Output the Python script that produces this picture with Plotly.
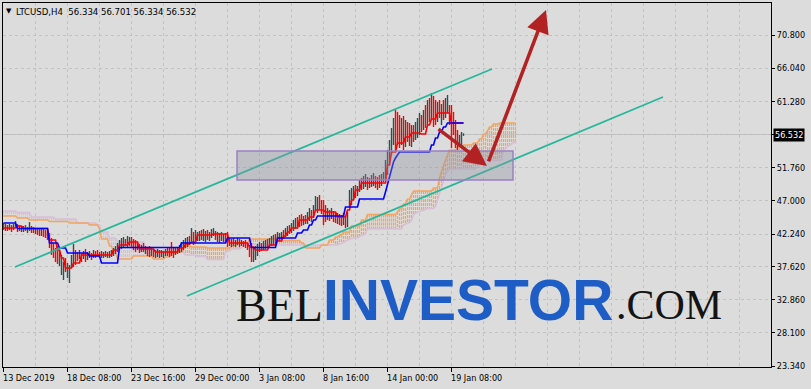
import plotly.graph_objects as go

# ---------------- data ----------------
symbol = "LTCUSD,H4"
header_ohlc = [56.334, 56.701, 56.334, 56.532]

bar_high = [
    43.84, 43.70, 43.55, 43.70, 43.55, 43.70, 44.13, 43.70, 43.55, 43.41,
    43.41, 43.55, 43.27, 43.98, 43.41, 43.27, 43.12, 43.12, 42.98, 43.12,
    42.98, 42.84, 42.70, 42.41, 41.69, 40.98, 40.26, 40.55, 39.97, 39.26,
    38.25, 38.83, 38.11, 37.82, 39.26, 40.83, 39.97, 39.69, 39.97, 39.54,
    39.83, 40.12, 39.69, 39.83, 39.54, 39.97, 39.83, 39.97, 39.69, 39.83,
    39.69, 39.83, 39.69, 39.83, 39.97, 40.26, 40.55, 40.98, 41.41, 41.69,
    41.84, 41.55, 41.98, 41.84, 41.84, 41.55, 41.41, 40.98, 40.83, 40.69,
    40.98, 40.55, 40.40, 40.55, 40.26, 40.12, 39.97, 40.12, 39.97, 39.97,
    39.83, 40.12, 40.26, 40.40, 41.12, 40.26, 40.40, 40.40, 40.69, 41.12,
    41.41, 41.69, 41.84, 41.98, 43.12, 42.55, 42.84, 42.55, 42.70, 42.84,
    42.98, 42.70, 42.84, 42.55, 42.98, 43.12, 42.70, 42.55, 42.41, 42.55,
    42.27, 42.41, 42.55, 41.69, 41.55, 41.69, 41.41, 41.69, 41.55, 41.41,
    41.26, 41.41, 40.98, 40.69, 40.98, 40.26, 40.55, 40.83, 41.12, 40.98,
    41.26, 41.41, 41.55, 41.69, 41.98, 42.12, 42.27, 42.55, 42.41, 42.55,
    42.84, 43.12, 43.41, 43.55, 43.84, 44.27, 44.56, 44.70, 44.99, 45.13,
    44.85, 44.99, 45.42, 45.99, 45.71, 46.42, 47.71, 47.57, 47.86, 47.14,
    47.14, 46.42, 45.99, 45.71, 45.99, 45.56, 45.42, 45.28, 45.13, 44.99,
    45.28, 44.85, 45.42, 48.58, 48.86, 49.15, 49.29, 49.15, 50.01, 50.30,
    50.58, 50.87, 50.44, 50.30, 50.73, 51.01, 50.58, 50.44, 50.73, 50.87,
    51.15, 52.88, 54.31, 55.74, 57.46, 58.90, 60.05, 59.77, 59.33, 58.90,
    59.19, 58.61, 58.33, 58.18, 57.89, 57.89, 58.33, 58.90, 59.62, 59.33,
    60.05, 60.76, 61.48, 61.77, 62.48, 62.05, 61.48, 61.19, 61.48, 60.91,
    61.48, 61.77, 62.20, 60.76, 60.76, 59.77, 58.61, 57.18, 56.46, 56.89,
    56.701,
]
bar_low = [
    42.84, 42.70, 42.70, 42.84, 42.55, 42.84, 43.12, 42.55, 42.70, 42.55,
    42.55, 42.70, 42.41, 42.70, 42.41, 42.41, 42.27, 42.12, 41.98, 41.98,
    41.84, 41.69, 41.41, 40.26, 39.26, 38.83, 38.25, 37.97, 37.68, 36.39,
    35.67, 36.82, 35.96, 35.24, 37.39, 37.54, 37.82, 38.40, 38.68, 38.25,
    38.68, 38.25, 38.54, 38.83, 38.54, 38.83, 38.83, 38.97, 38.83, 38.83,
    38.83, 38.97, 38.83, 38.83, 38.97, 39.11, 39.40, 39.69, 39.97, 40.12,
    40.26, 40.55, 40.40, 40.55, 40.26, 39.97, 39.69, 39.97, 39.54, 39.69,
    39.69, 39.40, 39.11, 38.97, 39.11, 38.97, 38.83, 38.97, 38.83, 38.97,
    38.83, 39.11, 39.11, 38.97, 39.11, 38.83, 39.26, 39.40, 39.54, 39.69,
    39.97, 40.26, 40.40, 40.69, 40.98, 40.69, 41.12, 41.26, 41.26, 41.41,
    41.26, 41.12, 41.41, 41.26, 41.69, 41.98, 41.41, 41.12, 40.98, 41.26,
    41.12, 40.98, 40.40, 40.55, 40.40, 40.55, 40.40, 40.69, 40.40, 40.55,
    40.40, 40.26, 39.97, 38.97, 38.25, 38.25, 38.54, 39.11, 39.69, 39.83,
    39.97, 40.12, 40.26, 40.40, 40.55, 40.69, 40.83, 41.12, 41.26, 41.41,
    41.55, 41.84, 41.98, 42.27, 42.41, 42.70, 42.98, 43.12, 43.27, 43.41,
    43.55, 43.70, 43.70, 44.13, 43.98, 44.56, 45.56, 45.28, 45.71, 45.13,
    43.55, 43.98, 44.27, 44.13, 44.42, 43.98, 43.84, 43.70, 43.55, 43.41,
    43.55, 43.12, 43.27, 45.99, 46.42, 47.14, 47.43, 47.71, 48.29, 48.58,
    48.72, 49.01, 48.58, 48.86, 49.01, 49.15, 48.86, 48.58, 48.86, 49.15,
    49.72, 50.01, 50.73, 52.16, 53.59, 55.03, 54.31, 55.03, 54.60, 55.03,
    54.31, 54.74, 55.46, 54.88, 54.74, 55.46, 55.74, 56.03, 56.46, 56.89,
    57.18, 57.46, 57.89, 58.33, 58.61, 57.61, 57.89, 58.33, 58.90, 57.89,
    58.61, 58.90, 59.62, 57.89, 54.60, 56.46, 54.60, 54.31, 54.74, 55.03,
    56.334,
]
# U = bull bar (dark), D = bear bar (red)
bar_dir = ("DUDUDUUDDU" "UDUUDDUDDU" "DDDDDDDDUU" "UDUUUUDDUD" "UDUUDUDDDU"
           "UUDUUUUUUU" "UDUUDDDUDU" "DUDDUDUUDU" "UUDDDDUDUU" "UUUDUDUUUD"
           "UUDUUUDUDU" "UDDDUDUUDU" "DDDDDUUUUD" "UUDUUUDUUU" "DUUDUUUDDD"
           "UDUUDUUUDD" "DDUDUDDUDD" "UDUUUUDUUD" "UUDDUUDDDU" "UUUUUUDDDU"
           "DUDDUDUUUD" "UDUDUDDUDU" "DUUDDDDDUU" "U")

# Ichimoku lines as (value, number of bars) runs
tenkan_runs = [
    (43.12, 7), (43.41, 3), (43.05, 13), (41.41, 4), (39.97, 2), (38.83, 2),
    (37.39, 4), (38.11, 4), (39.26, 16), (39.97, 3), (40.69, 5), (41.12, 5),
    (40.12, 8), (39.69, 12), (40.26, 3), (40.83, 3), (41.12, 3), (42.12, 8),
    (42.27, 8), (40.98, 10), (40.40, 3), (39.97, 7), (40.69, 4), (41.26, 3),
    (41.98, 2), (42.55, 2), (43.12, 4), (44.27, 5), (44.70, 3), (45.71, 5),
    (45.42, 6), (44.70, 5), (45.71, 2), (47.14, 2), (48.58, 3), (49.58, 13),
    (52.16, 2), (54.02, 3), (55.31, 4), (56.17, 3), (56.75, 5), (56.60, 3),
    (57.89, 2), (58.76, 3), (59.62, 7), (58.18, 7),
]
kijun_runs = [
    (43.84, 7), (43.05, 16), (40.98, 5), (40.26, 4), (39.54, 11), (39.11, 6),
    (38.11, 9), (40.33, 31), (40.98, 23), (41.69, 12), (40.33, 13), (41.69, 10),
    (42.41, 3), (42.84, 3), (43.55, 2), (44.27, 2), (44.85, 14), (46.14, 7),
    (47.28, 13), (48.29, 1), (49.44, 1), (50.58, 1), (51.73, 1), (52.59, 1),
    (53.16, 1), (53.59, 1), (54.02, 16), (55.03, 2), (56.03, 2), (56.89, 2),
    (57.61, 2), (58.18, 9),
]
span_a_runs = [
    (44.85, 7), (44.56, 6), (44.27, 10), (44.06, 10), (43.84, 10), (43.55, 5),
    (42.98, 1), (41.55, 4), (40.55, 2), (39.69, 2), (38.68, 8), (39.11, 10),
    (38.68, 6), (38.97, 3), (39.69, 6), (40.55, 4), (40.40, 8), (40.26, 12),
    (40.55, 3), (40.98, 6), (41.55, 15), (41.84, 1), (41.34, 10), (40.98, 2),
    (40.26, 8), (40.69, 4), (41.41, 3), (41.84, 2), (42.12, 2), (42.55, 4),
    (43.41, 5), (44.27, 3), (45.06, 15), (45.42, 1), (45.85, 2), (46.57, 2),
    (47.28, 2), (47.86, 1), (48.43, 10), (48.86, 3), (50.30, 1), (51.15, 1),
    (52.30, 1), (52.88, 1), (53.59, 1), (54.31, 4), (54.74, 3), (55.03, 5),
    (55.31, 3), (55.89, 2), (56.60, 2), (57.03, 1), (57.61, 2), (58.04, 3),
    (58.18, 9),
]
span_b_runs = [
    (45.56, 7), (45.35, 7), (44.70, 12), (44.42, 11), (43.84, 10), (43.55, 2),
    (42.55, 4), (41.69, 4), (41.12, 14), (40.33, 7), (39.69, 6), (39.62, 7),
    (39.26, 6), (39.04, 5), (38.61, 9), (39.69, 1), (39.76, 1), (39.90, 1),
    (40.12, 5), (40.26, 1), (40.69, 48), (40.83, 1), (40.90, 1), (41.05, 1),
    (41.26, 1), (41.41, 1), (41.48, 1), (41.62, 1), (41.69, 3), (41.84, 1),
    (42.12, 2), (42.34, 1), (42.98, 18), (43.55, 1), (43.70, 1), (43.77, 1),
    (43.91, 1), (44.20, 1), (44.99, 1), (45.21, 1), (45.42, 1), (45.49, 1),
    (45.56, 1), (45.63, 1), (45.78, 1), (45.92, 4), (46.21, 1), (47.21, 1),
    (48.07, 1), (48.86, 1), (49.87, 1), (50.65, 1), (51.37, 1), (51.52, 1),
    (51.59, 13), (51.95, 1), (52.30, 1), (52.45, 1), (52.81, 9), (52.88, 1),
    (54.24, 1), (54.45, 1), (54.81, 1), (54.96, 1), (55.10, 1), (55.39, 1),
    (55.53, 1),
]

time_labels = ["13 Dec 2019", "18 Dec 08:00", "23 Dec 16:00", "29 Dec 00:00",
               "3 Jan 08:00", "8 Jan 16:00", "14 Jan 00:00", "19 Jan 08:00"]
time_label_bars = [0, 32, 64, 96, 128, 160, 192, 224]
price_ticks = [70.8, 66.04, 61.28, 56.52, 51.76, 47.0, 42.24, 37.62, 32.86, 28.1, 23.34]

# drawn objects (bar index, price)
channel_upper = [(5.75, 37.54), (244.25, 65.92)]
channel_lower = [(91.75, 33.38), (329.75, 61.91)]
zone_box = [(116.75, 50.01), (254.75, 54.17)]
arrow_down = [(216.75, 57.47), (241.75, 52.02)]
arrow_up = [(242.25, 52.45), (271.25, 74.38)]

# ---------------- styles ----------------
BG = "#dcdcdc"
GRID = "#c2c2c2"
UP_C = "#2f4f4f"
DN_C = "#ff0000"
TENKAN_C = "#ff0000"
KIJUN_C = "#0000ff"
SANDY = "#f4a460"
THISTLE = "#d8bfd8"
CHAN_C = "#27b89c"
ARROW_C = "#b22222"
AX_FONT = "DejaVu Sans Condensed, Liberation Sans, sans-serif"


def expand(runs):
    out = []
    for v, n in runs:
        out.extend([v] * n)
    return out


tenkan = expand(tenkan_runs)
kijun = expand(kijun_runs)
span_a = expand(span_a_runs)
span_b = expand(span_b_runs)

fig = go.Figure()

# cloud hatch (dotted vertical strokes between span A and span B)
hx_up, hy_up, hx_dn, hy_dn = [], [], [], []
for i, (a, b) in enumerate(zip(span_a, span_b)):
    if a >= b:
        hx_up += [i, i, None]
        hy_up += [a, b, None]
    else:
        hx_dn += [i, i, None]
        hy_dn += [b, a, None]
fig.add_trace(go.Scatter(x=hx_up, y=hy_up, mode="lines", hoverinfo="skip",
                         line=dict(color=SANDY, width=1.2, dash="3px,1px")))
fig.add_trace(go.Scatter(x=hx_dn, y=hy_dn, mode="lines", hoverinfo="skip",
                         line=dict(color=THISTLE, width=1.2, dash="3px,1px")))
idx_cloud = list(range(len(span_a)))
fig.add_trace(go.Scatter(x=idx_cloud, y=span_b, mode="lines",
                         line=dict(color=THISTLE, width=1.5)))
fig.add_trace(go.Scatter(x=idx_cloud, y=span_a, mode="lines",
                         line=dict(color=SANDY, width=1.5)))

# price bars
bx_u, by_u, bx_d, by_d = [], [], [], []
for i, (h, l, d) in enumerate(zip(bar_high, bar_low, bar_dir)):
    if d == "U":
        bx_u += [i, i, None]
        by_u += [l, h, None]
    else:
        bx_d += [i, i, None]
        by_d += [l, h, None]
fig.add_trace(go.Scatter(x=bx_u, y=by_u, mode="lines", line=dict(color=UP_C, width=1.4)))
fig.add_trace(go.Scatter(x=bx_d, y=by_d, mode="lines", line=dict(color=DN_C, width=1.4)))

idx_bars = list(range(len(bar_high)))
fig.add_trace(go.Scatter(x=idx_bars, y=tenkan, mode="lines",
                         line=dict(color=TENKAN_C, width=1.6)))
fig.add_trace(go.Scatter(x=idx_bars, y=kijun, mode="lines",
                         line=dict(color=KIJUN_C, width=1.6)))

# bid line
last_close = header_ohlc[3]
fig.add_shape(type="line", xref="paper", x0=0, x1=1, yref="y", y0=last_close, y1=last_close,
              line=dict(color="#bdbdbd", width=1), layer="below")

# channel lines
for (x0, y0), (x1, y1) in (channel_upper, channel_lower):
    fig.add_shape(type="line", xref="x", yref="y", x0=x0, y0=y0, x1=x1, y1=y1,
                  line=dict(color=CHAN_C, width=1.8), layer="above")

# zone rectangle
fig.add_shape(type="rect", xref="x", yref="y",
              x0=zone_box[0][0], y0=zone_box[0][1], x1=zone_box[1][0], y1=zone_box[1][1],
              fillcolor="rgba(140,143,162,0.36)", line=dict(color="#9a80c2", width=1.5),
              layer="above")

# arrows
for (tx, ty), (hx, hy) in (arrow_down, arrow_up):
    fig.add_annotation(x=hx, y=hy, ax=tx, ay=ty, xref="x", yref="y", axref="x", ayref="y",
                       text="", showarrow=True, arrowhead=2, arrowsize=1.3,
                       arrowwidth=3.5, arrowcolor=ARROW_C, standoff=0, startstandoff=0)

PLOT_L, PLOT_W, PLOT_T, PLOT_H = 3, 768, 3, 364


def px_x(px):
    return (px - PLOT_L) / PLOT_W


def px_y(py):
    return (PLOT_T + PLOT_H - py) / PLOT_H


# time labels (left aligned at their tick like the terminal does)
for b, lab in zip(time_label_bars, time_labels):
    fig.add_annotation(x=b, xref="x", y=px_y(378), yref="paper", text=lab,
                       showarrow=False, xanchor="left", yanchor="middle", xshift=-1.5,
                       borderpad=0, font=dict(family=AX_FONT, size=9, color="black"))

# header
fig.add_annotation(x=px_x(5), y=px_y(11), xref="paper", yref="paper", text="\u25bc",
                   showarrow=False, xanchor="left", yanchor="middle", borderpad=0,
                   font=dict(family="DejaVu Sans", size=7, color="black"))
header_text = symbol + "\u00a0\u00a0" + " ".join(f"{v:.3f}" for v in header_ohlc)
fig.add_annotation(x=px_x(15), y=px_y(11), xref="paper", yref="paper", text=header_text,
                   showarrow=False, xanchor="left", yanchor="middle", borderpad=0,
                   font=dict(family=AX_FONT, size=9.5, color="black"))

# current price label
fig.add_annotation(x=1, xref="paper", y=last_close, yref="y", text=f"{last_close:.3f}",
                   showarrow=False, xanchor="left", yanchor="middle", xshift=2,
                   bgcolor="black", borderpad=1,
                   font=dict(family=AX_FONT, size=9, color="white"))

# watermark
fig.add_annotation(x=px_x(235), y=px_y(305), xref="paper", yref="paper", text="BEL",
                   showarrow=False, xanchor="left", yanchor="middle", borderpad=0,
                   font=dict(family="Liberation Serif, serif", size=46, color="#141414"))
fig.add_annotation(x=px_x(322), y=px_y(300), xref="paper", yref="paper", text="<b>INVESTOR</b>",
                   showarrow=False, xanchor="left", yanchor="middle", borderpad=0,
                   font=dict(family="Liberation Sans, sans-serif", size=57, color="#1f5dc6"))
fig.add_annotation(x=px_x(615), y=px_y(305), xref="paper", yref="paper", text=".COM",
                   showarrow=False, xanchor="left", yanchor="middle", borderpad=0,
                   font=dict(family="Liberation Serif, serif", size=42, color="#141414"))

fig.update_layout(
    width=811, height=389,
    margin=dict(l=PLOT_L, r=811 - PLOT_L - PLOT_W, t=PLOT_T, b=389 - PLOT_T - PLOT_H),
    paper_bgcolor=BG, plot_bgcolor=BG, showlegend=False,
    xaxis=dict(range=[-0.25, 383.75], tickmode="array", tickvals=time_label_bars,
               ticktext=[""] * len(time_label_bars), ticks="outside", ticklen=4,
               tickcolor="black", showgrid=True, gridcolor=GRID, griddash="dot",
               gridwidth=1, showline=True, linecolor="black", linewidth=1, mirror=True,
               zeroline=False, fixedrange=True,
               minor=dict(tickmode="linear", tick0=0, dtick=16, showgrid=True,
                          gridcolor=GRID, griddash="dot", gridwidth=1, ticks="")),
    yaxis=dict(side="right", range=[23.196, 75.388], tickmode="array", tickvals=price_ticks,
               ticktext=["" if abs(v - 56.52) < 1e-9 else f"{v:.3f}" for v in price_ticks],
               ticks="outside", ticklen=3, tickcolor="black",
               tickfont=dict(family=AX_FONT, size=9, color="black"),
               showgrid=True, gridcolor=GRID, griddash="dot", gridwidth=1,
               showline=True, linecolor="black", linewidth=1, mirror=True,
               zeroline=False, fixedrange=True),
)

fig.write_html("out.html")
